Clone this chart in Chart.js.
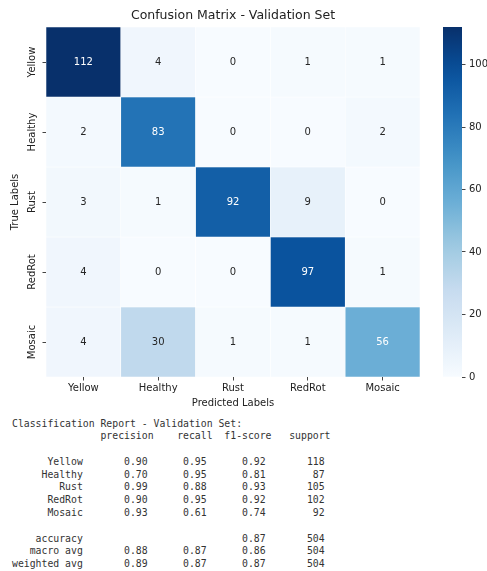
<!DOCTYPE html>
<html>
<head>
<meta charset="utf-8">
<script src="https://cdn.jsdelivr.net/npm/chart.js@4.4.1/dist/chart.umd.min.js"></script>
<style>
  html, body { margin: 0; padding: 0; background: #fff; }
  #wrap { position: relative; width: 487px; height: 571px; overflow: hidden; background: #fff; }
  #cm { position: absolute; left: 0; top: 0; }
  #cb { position: absolute; left: 443px; top: 0; }
  #report {
    position: absolute; left: 12px; top: 417.5px; margin: 0;
    font: 9.8px/12.8px "DejaVu Sans Mono", monospace; color: #333; white-space: pre;
  }
</style>
</head>
<body>
<div id="wrap">
  <canvas id="cm" width="487" height="410"></canvas>
  <canvas id="cb" width="44" height="410"></canvas>
  <pre id="report"></pre>
</div>
<script>
// Class names (rows = true label, columns = predicted label)
const predictedLabels = ['Yellow', 'Healthy', 'Rust', 'RedRot', 'Mosaic'];
const trueLabels = ['Yellow', 'Healthy', 'Rust', 'RedRot', 'Mosaic'];

// Confusion-matrix counts, one row per true class
const rowYellow  = [112, 4, 0, 1, 1];
const rowHealthy = [2, 83, 0, 0, 2];
const rowRust    = [3, 1, 92, 9, 0];
const rowRedRot  = [4, 0, 0, 97, 1];
const rowMosaic  = [4, 30, 1, 1, 56];
const matrixRows = [rowYellow, rowHealthy, rowRust, rowRedRot, rowMosaic];

// Colour-bar tick values
const colorbarTicks = [0, 20, 40, 60, 80, 100];

// Classification report columns
const precision = [0.90, 0.70, 0.99, 0.90, 0.93];
const recall    = [0.95, 0.95, 0.88, 0.95, 0.61];
const f1score   = [0.92, 0.81, 0.93, 0.92, 0.74];
const support   = [118, 87, 105, 102, 92];
const accuracyRow = { f1: 0.87, support: 504 };
const macroAvg    = [0.88, 0.87, 0.86, 504];
const weightedAvg = [0.89, 0.87, 0.87, 504];

// Matplotlib "Blues" colour map
const bluesStops = ['#f7fbff', '#deebf7', '#c6dbef', '#9ecae1', '#6baed6',
                    '#4292c6', '#2171b5', '#08519c', '#08306b'];
function hexToRgb(h) {
  return [parseInt(h.slice(1, 3), 16), parseInt(h.slice(3, 5), 16), parseInt(h.slice(5, 7), 16)];
}
function bluesRgb(t) {
  t = Math.max(0, Math.min(1, t));
  const pos = t * (bluesStops.length - 1);
  const i = Math.min(Math.floor(pos), bluesStops.length - 2);
  const f = pos - i;
  const a = hexToRgb(bluesStops[i]), b = hexToRgb(bluesStops[i + 1]);
  return a.map((v, k) => Math.round(v + (b[k] - v) * f));
}
function blues(t) {
  const c = bluesRgb(t);
  return `rgb(${c[0]},${c[1]},${c[2]})`;
}
function luminance(rgb) {
  const lin = rgb.map(v => {
    v /= 255;
    return v <= 0.03928 ? v / 12.92 : Math.pow((v + 0.055) / 1.055, 2.4);
  });
  return 0.2126 * lin[0] + 0.7152 * lin[1] + 0.0722 * lin[2];
}

const vmax = Math.max(...matrixRows.flat());
const tickColor = '#222';
const fontFamily = '"DejaVu Sans", sans-serif';

// One floating-bar dataset per true-label row; each bar spans its row on the y scale
const datasets = matrixRows.map((row, i) => ({
  label: trueLabels[i],
  counts: row,
  data: row.map(() => [i, i + 1]),
  backgroundColor: row.map(v => blues(v / vmax)),
  borderColor: 'rgba(255,255,255,0.7)',
  borderWidth: 0.6,
  borderSkipped: false,
  barPercentage: 1,
  categoryPercentage: 1,
  grouped: false
}));

// Writes each cell's count at the centre of its bar
const cellText = {
  id: 'cellText',
  afterDatasetsDraw(chart) {
    const c = chart.ctx;
    c.save();
    c.font = `10px ${fontFamily}`;
    c.textAlign = 'center';
    c.textBaseline = 'middle';
    chart.data.datasets.forEach((ds, i) => {
      chart.getDatasetMeta(i).data.forEach((bar, j) => {
        const v = ds.counts[j];
        const lum = luminance(bluesRgb(v / vmax));
        c.fillStyle = lum > 0.408 ? '#262626' : '#ffffff';
        const yMid = (bar.y + bar.base) / 2;
        c.fillText(String(v), bar.x, yMid);
      });
    });
    c.restore();
  }
};

new Chart(document.getElementById('cm'), {
  type: 'bar',
  data: { labels: predictedLabels, datasets },
  options: {
    responsive: false,
    animation: false,
    layout: { padding: { left: 0, right: 67, top: 0, bottom: 0 } },
    plugins: {
      legend: { display: false },
      tooltip: { enabled: false },
      title: {
        display: true,
        text: 'Confusion Matrix - Validation Set',
        fullSize: false,
        color: tickColor,
        font: { family: fontFamily, size: 12.5, weight: 'normal' },
        padding: { top: 8.5, bottom: 3.5 }
      }
    },
    scales: {
      x: {
        type: 'category',
        offset: true,
        grid: { display: true, offset: false, drawOnChartArea: false, drawTicks: true, tickLength: 3.5, tickColor: '#444' },
        border: { display: false },
        ticks: { color: tickColor, font: { family: fontFamily, size: 10 }, padding: 1.5, maxRotation: 0, minRotation: 0 },
        title: { display: true, text: 'Predicted Labels', color: tickColor, font: { family: fontFamily, size: 10 }, padding: { top: 0, bottom: 1 } },
        afterFit(scale) { scale.height = 33; }
      },
      y: {
        type: 'linear',
        min: 0,
        max: 5,
        reverse: true,
        afterBuildTicks(scale) { scale.ticks = trueLabels.map((_, i) => ({ value: i + 0.5 })); },
        grid: { display: true, drawOnChartArea: false, drawTicks: true, tickLength: 3.5, tickColor: '#444' },
        border: { display: false },
        ticks: {
          color: tickColor,
          font: { family: fontFamily, size: 10 },
          minRotation: 90,
          maxRotation: 90,
          crossAlign: 'center',
          padding: -9.5,
          callback: v => trueLabels[Math.round(v - 0.5)]
        },
        title: { display: true, text: 'True Labels', color: tickColor, font: { family: fontFamily, size: 10 }, padding: { top: 9, bottom: 0 } },
        afterFit(scale) { scale.width = 46; }
      }
    }
  },
  plugins: [cellText]
});

// Colour bar: a single bar from 0 to the largest count, filled with the colour map
new Chart(document.getElementById('cb'), {
  type: 'bar',
  data: {
    labels: [''],
    datasets: [{
      data: [[0, vmax]],
      barPercentage: 1,
      categoryPercentage: 1,
      borderWidth: 0,
      backgroundColor(ctx) {
        const area = ctx.chart.chartArea;
        if (!area) return bluesStops[4];
        const g = ctx.chart.ctx.createLinearGradient(0, area.bottom, 0, area.top);
        for (let k = 0; k <= 20; k++) g.addColorStop(k / 20, blues(k / 20));
        return g;
      }
    }]
  },
  options: {
    responsive: false,
    animation: false,
    layout: { padding: { left: 0, right: 0, top: 27, bottom: 33 } },
    plugins: { legend: { display: false }, tooltip: { enabled: false } },
    scales: {
      x: { display: false, offset: true },
      y: {
        position: 'right',
        min: 0,
        max: vmax,
        afterBuildTicks(scale) { scale.ticks = colorbarTicks.map(v => ({ value: v })); },
        grid: { display: true, drawOnChartArea: false, drawTicks: true, tickLength: 3.5, tickColor: '#444' },
        border: { display: false },
        ticks: { color: tickColor, font: { family: fontFamily, size: 10 }, padding: 3.5 },
        afterFit(scale) { scale.width = 25; }
      }
    }
  }
});

// Text classification report in a fixed-width layout
function pad(s, w) { s = String(s); return ' '.repeat(Math.max(0, w - s.length)) + s; }
const f2 = v => v.toFixed(2);
const lines = [];
lines.push('Classification Report - Validation Set:');
lines.push(pad('', 13) + ' ' + [' precision', '    recall', '  f1-score', '   support'].join(''));
lines.push('');
trueLabels.forEach((name, i) => {
  lines.push(pad(name, 12) + ' ' + pad(f2(precision[i]), 10) + pad(f2(recall[i]), 10) +
             pad(f2(f1score[i]), 10) + pad(support[i], 10));
});
lines.push('');
lines.push(pad('accuracy', 12) + ' ' + pad('', 10) + pad('', 10) + pad(f2(accuracyRow.f1), 10) + pad(accuracyRow.support, 10));
lines.push(pad('macro avg', 12) + ' ' + pad(f2(macroAvg[0]), 10) + pad(f2(macroAvg[1]), 10) + pad(f2(macroAvg[2]), 10) + pad(macroAvg[3], 10));
lines.push(pad('weighted avg', 12) + ' ' + pad(f2(weightedAvg[0]), 10) + pad(f2(weightedAvg[1]), 10) + pad(f2(weightedAvg[2]), 10) + pad(weightedAvg[3], 10));
document.getElementById('report').textContent = lines.join('\n');
</script>
</body>
</html>
